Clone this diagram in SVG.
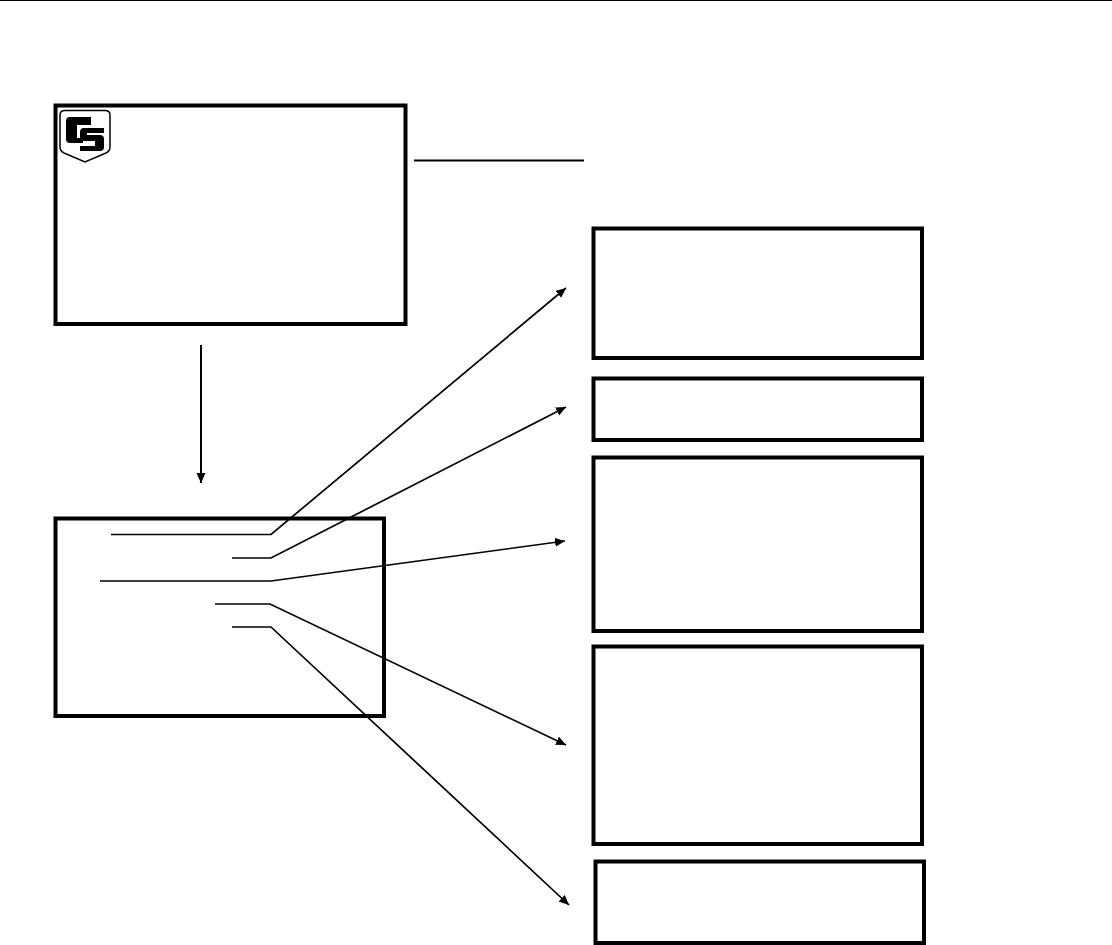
<svg xmlns="http://www.w3.org/2000/svg" width="1112" height="945" viewBox="0 0 1112 945">
<style>
.box{fill:#fff;stroke:#000;stroke-width:4}
.ln{fill:none;stroke:#000;stroke-width:2}
.ar{fill:none;stroke:#000;stroke-width:1.7;marker-end:url(#ah)}
</style>
<defs><marker id="ah" markerUnits="userSpaceOnUse" markerWidth="12" markerHeight="10" refX="10" refY="4.500" orient="auto"><path d="M0 0L10 4.500L0 9Z" fill="#000"/></marker></defs>
<rect width="1112" height="945" fill="#fff"/>
<g id="header"><line x1="0" y1="0.500" x2="1112" y2="0.500" stroke="#000" stroke-width="1.200"/></g>
<g id="node-main"><rect class="box" x="55.500" y="105.500" width="350" height="218.500"/>
<g id="logo"><path d="M65 110.500H105Q110 110.500 110 115V147Q110 151 106 153L85 162L64 153Q60 151 60 147V115Q60 110.500 65 110.500Z" fill="#fff" stroke="#000" stroke-width="1.500"/>
<path d="M70 117H91V125H77V138H83V143H70Q66 143 66 139V121Q66 117 70 117Z" fill="#000"/>
<path d="M84 128H104V133H87V135H100Q104 135 104 139V147Q104 151 100 151H80V146H95V141H84Q80 141 80 137V132Q80 128 84 128Z" fill="#000"/></g></g>
<g id="node-list"><rect class="box" x="55.500" y="518.500" width="328.500" height="197.500"/></g>
<g id="node-a"><rect class="box" x="593.500" y="228.500" width="328.500" height="129.500"/></g>
<g id="node-b"><rect class="box" x="593.500" y="378.500" width="328.500" height="61.500"/></g>
<g id="node-c"><rect class="box" x="593.500" y="457.500" width="328.500" height="173.500"/></g>
<g id="node-d"><rect class="box" x="593.500" y="646.500" width="328.500" height="197.500"/></g>
<g id="node-e"><rect class="box" x="595.500" y="861.500" width="328.500" height="81.500"/></g>
<g id="connectors">
<line class="ln" x1="414" y1="160.500" x2="584" y2="160.500"/>
<line class="ar" x1="201" y1="345" x2="201" y2="483" style="stroke-width:2"/>
<path class="ar" d="M111 534.500H271L566 288"/>
<path class="ar" d="M232 558H271L566 407"/>
<path class="ar" d="M100 581H271L565 541"/>
<path class="ar" d="M215 604H270L566 745"/>
<path class="ar" d="M232 627H271L569 905"/>
</g>
</svg>
